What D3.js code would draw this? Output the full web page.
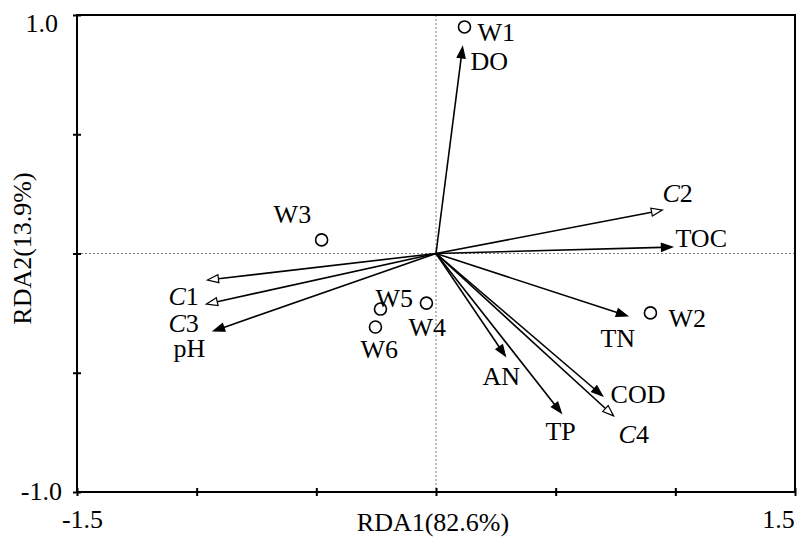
<!DOCTYPE html>
<html><head><meta charset="utf-8">
<script src="https://cdn.jsdelivr.net/npm/d3@7"></script>
<style>
body{margin:0;background:#fff;}
text{font-family:"Liberation Serif","Times New Roman",serif;fill:#000;}
</style></head>
<body><svg id="chart" width="800" height="545"></svg>
<script>
// ---- data ----
const siteNames = ["W1","W2","W3","W4","W5","W6"];
const siteX = [0.119, 0.896, -0.478, -0.040, -0.232, -0.253];
const siteY = [0.950, -0.249, 0.057, -0.208, -0.233, -0.308];

const varNames = ["DO","C2","TOC","TN","COD","C4","TP","AN","C1","C3","pH"];
const varX = [0.111, 0.946, 0.988, 0.800, 0.696, 0.742, 0.524, 0.290, -0.955, -0.959, -0.930];
const varY = [0.866, 0.182, 0.027, -0.262, -0.597, -0.681, -0.669, -0.430, -0.111, -0.212, -0.325];

const xTicks = [-1.5, -1.0, -0.5, 0, 0.5, 1.0, 1.5];
const yTicks = [-1.0, -0.5, 0, 0.5, 1.0];
const xLabeled = [-1.5, 1.5];
const yLabeled = [-1.0, 1.0];
const xTitle = "RDA1(82.6%)";
const yTitle = "RDA2(13.9%)";

// ---- layout ----
const L = 77, R = 795, T = 15, B = 492;
const labelOffset = {
  W1:[13,14], W2:[18,14], W3:[-48,-17], W4:[-18,33], W5:[-5,-2], W6:[-15,31],
  DO:[8,23], C2:[0,-8], TOC:[3,0], TN:[-27,31], COD:[8,7], C4:[5,27],
  TP:[-16,27], AN:[-23,29], C1:[-39,25], C3:[-38,28], pH:[-40,26]
};
const FS = 26;

const svg = d3.select("#chart");
const x = d3.scaleLinear().domain([-1.5, 1.5]).range([L, R]);
const y = d3.scaleLinear().domain([-1.0, 1.0]).range([B, T]);

// zero lines
svg.append("line").attr("x1", x(0)).attr("x2", x(0)).attr("y1", T).attr("y2", B)
  .attr("stroke", "#777").attr("stroke-width", 1).attr("stroke-dasharray", "2,2");
svg.append("line").attr("x1", L).attr("x2", R).attr("y1", y(0)).attr("y2", y(0))
  .attr("stroke", "#777").attr("stroke-width", 1).attr("stroke-dasharray", "2,2");

// frame
svg.append("rect").attr("x", L).attr("y", T).attr("width", R - L).attr("height", B - T)
  .attr("fill", "none").attr("stroke", "#000").attr("stroke-width", 2);

// axes
const xAxis = svg.append("g").attr("transform", `translate(0,${B})`)
  .call(d3.axisBottom(x).tickValues(xTicks).tickSize(4)
    .tickFormat(d => xLabeled.includes(d) ? d.toFixed(1) : ""));
xAxis.select(".domain").remove();
xAxis.selectAll(".tick line").attr("y1", -4).attr("y2", 4).attr("stroke", "#000").attr("stroke-width", 2);
xAxis.selectAll(".tick text").attr("y", 36).attr("dy", 0)
  .style("font-size", FS + "px").style("font-family", "Liberation Serif")
  .attr("text-anchor", "middle")
  .attr("dx", d => d < 0 ? 5 : -17);

const yAxis = svg.append("g").attr("transform", `translate(${L},0)`)
  .call(d3.axisLeft(y).tickValues(yTicks).tickSize(4)
    .tickFormat(d => yLabeled.includes(d) ? d.toFixed(1) : ""));
yAxis.select(".domain").remove();
yAxis.selectAll(".tick line").attr("x1", -4).attr("x2", 4).attr("stroke", "#000").attr("stroke-width", 2);
yAxis.selectAll(".tick text").attr("x", d => d > 0 ? -19 : -15).attr("dy", d => d > 0 ? 16 : 7)
  .attr("text-anchor", "end")
  .style("font-size", FS + "px").style("font-family", "Liberation Serif");

// axis titles
svg.append("text").attr("x", (L + R) / 2 - 3).attr("y", 531).attr("text-anchor", "middle")
  .style("font-size", FS + "px").text(xTitle);
svg.append("text").attr("transform", `translate(31,${(T + B) / 2 - 5}) rotate(-90)`)
  .attr("text-anchor", "middle").style("font-size", FS + "px").text(yTitle);

// arrows
const vars = varNames.map((n, i) => ({name: n, vx: varX[i], vy: varY[i]}));
const isCarbon = n => /^C\d$/.test(n);
const ox = x(0), oy = y(0);
const HL = 11, HW = 4;
const ag = svg.append("g");
vars.forEach(v => {
  const tx = x(v.vx), ty = y(v.vy);
  const dx = tx - ox, dy = ty - oy, len = Math.hypot(dx, dy);
  const ux = dx / len, uy = dy / len;
  const bx = tx - ux * HL, by = ty - uy * HL;
  ag.append("line").attr("x1", ox).attr("y1", oy).attr("x2", bx).attr("y2", by)
    .attr("stroke", "#000").attr("stroke-width", 1.6);
  const pts = [[tx, ty], [bx - uy * HW, by + ux * HW], [bx + uy * HW, by - ux * HW]];
  ag.append("polygon").attr("points", pts.map(p => p.join(",")).join(" "))
    .attr("fill", isCarbon(v.name) ? "#fff" : "#000")
    .attr("stroke", "#000").attr("stroke-width", 1.2).attr("stroke-linejoin", "miter");
  const off = labelOffset[v.name];
  const t = ag.append("text").attr("x", tx + off[0]).attr("y", ty + off[1])
    .style("font-size", FS + "px");
  if (isCarbon(v.name)) {
    t.append("tspan").style("font-style", "italic").text(v.name[0]);
    t.append("tspan").text(v.name.slice(1));
  } else t.text(v.name);
});

// sites
const sites = siteNames.map((n, i) => ({name: n, sx: siteX[i], sy: siteY[i]}));
const sg = svg.append("g");
sites.forEach(s => {
  const cx = x(s.sx), cy = y(s.sy);
  sg.append("circle").attr("cx", cx).attr("cy", cy).attr("r", 6)
    .attr("fill", "#fff").attr("stroke", "#000").attr("stroke-width", 1.6);
  const off = labelOffset[s.name];
  sg.append("text").attr("x", cx + off[0]).attr("y", cy + off[1])
    .style("font-size", FS + "px").text(s.name);
});
</script></body></html>
